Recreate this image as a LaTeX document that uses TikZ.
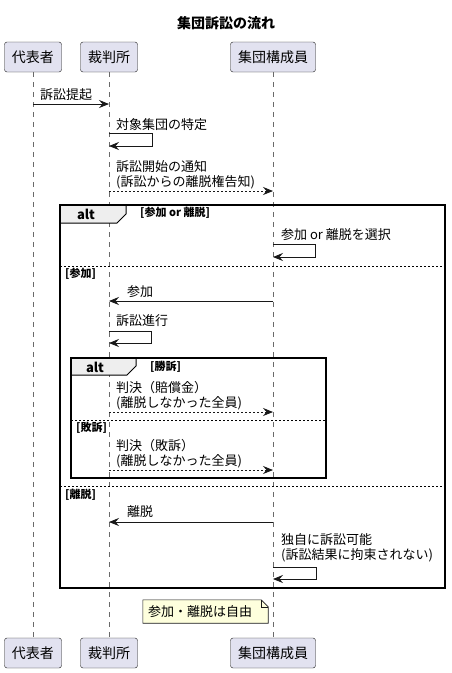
\documentclass[tikz,border=0pt]{standalone}
\usepackage{fontspec}
\setmainfont{Noto Sans CJK JP}
\usepackage{tikz}
\usetikzlibrary{arrows.meta,calc}
\definecolor{partfill}{HTML}{E2E2F0}
\definecolor{linecol}{HTML}{181818}
\definecolor{notefill}{HTML}{FEFFDD}
\definecolor{tabfill}{HTML}{EEEEEE}
\tikzset{%
  >={Stealth[length=10pt,width=8pt,inset=3.5pt]},
  part/.style={draw=linecol,fill=partfill,rounded corners=2.5pt,minimum height=30pt,
    inner xsep=7.5pt,font=\fontsize{14}{16}\selectfont},
  life/.style={draw=linecol!65,line width=0.6pt,dash pattern=on 5pt off 5pt},
  msg/.style={draw=linecol,line width=0.8pt,->},
  reply/.style={msg,dash pattern=on 2pt off 2pt},
  lbl/.style={anchor=west,inner sep=0pt,align=left,font=\fontsize{13}{15}\selectfont},
  frame/.style={draw=black,line width=1.4pt},
  sep/.style={draw=black,line width=0.8pt,dash pattern=on 2pt off 2pt},
  guard/.style={anchor=west,inner sep=0pt,font=\bfseries\fontsize{11}{13}\selectfont},
  altlbl/.style={inner sep=0pt,font=\bfseries\fontsize{13}{15}\selectfont},
  tab/.style={fill=tabfill,draw=black,line width=1pt},
  note/.style={minimum width=125pt,minimum height=23pt,inner sep=0pt,font=\fontsize{13}{15}\selectfont}
}
\begin{document}
\begin{tikzpicture}[x=1pt,y=-1pt]
  \useasboundingbox (0,0) rectangle (451,673);
  \node[font=\bfseries\fontsize{14}{16}\selectfont] (title) at (226,23) {集団訴訟の流れ};

  % participants
  \node[part] (rep) at (33,57) {代表者};
  \node[part] (court) at (109,57) {裁判所};
  \node[part] (mem) at (273,57) {集団構成員};
  \node[part] (repb) at (33,653) {代表者};
  \node[part] (courtb) at (109,653) {裁判所};
  \node[part] (memb) at (273,653) {集団構成員};
  \draw[life] (rep) -- (repb);
  \draw[life] (court) -- (courtb);
  \draw[life] (mem) -- (memb);

  % message levels
  \coordinate (m1) at (0,104);
  \coordinate (s1a) at (0,133); \coordinate (s1b) at (0,146);
  \coordinate (m2) at (0,191);
  \coordinate (s2a) at (0,244); \coordinate (s2b) at (0,257);
  \coordinate (m3) at (0,301);
  \coordinate (s3a) at (0,331); \coordinate (s3b) at (0,343);
  \coordinate (m4) at (0,412);
  \coordinate (m5) at (0,470);
  \coordinate (m6) at (0,522);
  \coordinate (s4a) at (0,567); \coordinate (s4b) at (0,579);

  \draw[msg] (rep |- m1) -- (court |- m1);
  \node[lbl] (l1) at (40,95) {訴訟提起};

  \draw[msg] (court |- s1a) -- ++(43,0) -- ++(0,13) -- (court |- s1b);
  \node[lbl] (l2) at (116,125) {対象集団の特定};

  \draw[reply] (court |- m2) -- (mem |- m2);
  \node[lbl] (l3) at (116,174.5) {訴訟開始の通知\\(訴訟からの離脱権告知)};

  % outer alt
  \draw[tab] (60,205) -- (126,205) -- (126,214) -- (117,223) -- (60,223) -- cycle;
  \draw[frame] (60,205) rectangle (445,588);
  \node[altlbl] (alt1) at (86,214) {alt};
  \node[guard] (g1) at (140,213) {[参加 or 離脱]};

  \draw[msg] (mem |- s2a) -- ++(42,0) -- ++(0,13) -- (mem |- s2b);
  \node[lbl] (l4) at (281,235) {参加 or 離脱を選択};

  \draw[sep] (60,266) -- (445,266);
  \node[guard] (g2) at (65,274) {[参加]};

  \draw[msg] (mem |- m3) -- (court |- m3);
  \node[lbl] (l5) at (127,292) {参加};

  \draw[msg] (court |- s3a) -- ++(42,0) -- ++(0,12) -- (court |- s3b);
  \node[lbl] (l6) at (116,321) {訴訟進行};

  % inner alt
  \draw[tab] (71,358) -- (136,358) -- (136,366) -- (127,375) -- (71,375) -- cycle;
  \draw[frame] (71,358) rectangle (326,478);
  \node[altlbl] (alt2) at (95,367) {alt};
  \node[guard] (g3) at (150,367) {[勝訴]};

  \draw[reply] (court |- m4) -- (mem |- m4);
  \node[lbl] (l7) at (116,395.5) {判決（賠償金）\\(離脱しなかった全員)};

  \draw[sep] (71,420) -- (326,420);
  \node[guard] (g4) at (76,428) {[敗訴]};

  \draw[reply] (court |- m5) -- (mem |- m5);
  \node[lbl] (l8) at (116,454) {判決（敗訴）\\(離脱しなかった全員)};

  \draw[sep] (60,486) -- (445,486);
  \node[guard] (g5) at (65,495) {[離脱]};

  \draw[msg] (mem |- m6) -- (court |- m6);
  \node[lbl] (l9) at (127,512) {離脱};

  \draw[msg] (mem |- s4a) -- ++(43,0) -- ++(0,12) -- (mem |- s4b);
  \node[lbl] (l10) at (281,547.5) {独自に訴訟可能\\(訴訟結果に拘束されない)};

  % note
  \node[note] (nt) at (205.5,611.5) {};
  \filldraw[fill=notefill,draw=linecol,line width=0.6pt] (nt.north west) -- ($(nt.north east)+(-7,0)$)
    -- ($(nt.north east)+(0,7)$) -- (nt.south east) -- (nt.south west) -- cycle;
  \draw[draw=linecol,line width=0.6pt] ($(nt.north east)+(-7,0)$) -- ($(nt.north east)+(-7,7)$)
    -- ($(nt.north east)+(0,7)$);
  \node[lbl] (ntxt) at ($(nt.west)+(5,0)$) {参加・離脱は自由};
\end{tikzpicture}
\end{document}
